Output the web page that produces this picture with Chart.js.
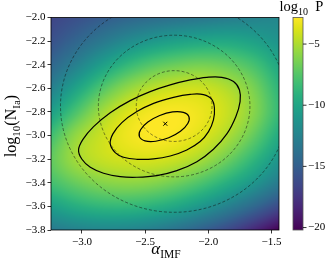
<!DOCTYPE html>
<html><head><meta charset="utf-8">
<script src="https://cdn.jsdelivr.net/npm/chart.js@4.4.0/dist/chart.umd.min.js"></script>
<style>html,body{margin:0;padding:0;background:#fff;overflow:hidden}</style>
</head><body>
<canvas id="c" width="332" height="269" style="width:332px;height:269px;display:block"></canvas>
<script>
// ---- axis ranges & ticks ----
const xMin = -3.245, xMax = -1.44;
const yMin = -3.8, yMax = -2.0;
const cbMin = -20.2, cbMax = -2.83;
const xTicks = [-3.0, -2.5, -2.0, -1.5];
const yTicks = [-2.0, -2.2, -2.4, -2.6, -2.8, -3.0, -3.2, -3.4, -3.6, -3.8];
const cbTicks = [-5, -10, -15, -20];

// ---- log10 P on a grid ----
const alphaGrid = [-3.25, -3.05, -2.85, -2.65, -2.45, -2.25, -2.05, -1.85, -1.65, -1.45];
const logNGrid  = [-2.0, -2.2, -2.4, -2.6, -2.8, -3.0, -3.2, -3.4, -3.6, -3.8];
const rowN200 = [-16.7, -16.0, -15.3, -14.7, -14.2, -13.8, -13.4, -13.0, -12.6, -12.2];
const rowN220 = [-15.9, -14.6, -13.3, -12.0, -11.0, -10.3, -9.9, -9.8, -10.3, -11.2];
const rowN240 = [-14.6, -12.7, -10.6, -8.8, -7.5, -6.8, -6.5, -6.9, -7.9, -9.8];
const rowN260 = [-12.8, -10.2, -7.7, -5.8, -4.7, -4.2, -4.2, -4.9, -6.3, -8.8];
const rowN280 = [-10.6, -7.8, -5.4, -3.9, -3.1, -2.95, -3.35, -4.3, -5.9, -8.5];
const rowN300 = [-8.3, -5.7, -4.3, -3.3, -2.88, -3.05, -3.75, -5.0, -6.9, -9.5];
const rowN320 = [-7.2, -5.3, -4.4, -4.0, -3.9, -4.3, -5.2, -6.7, -8.7, -11.0];
const rowN340 = [-8.1, -6.9, -6.1, -5.8, -6.0, -6.7, -7.8, -9.3, -11.0, -13.0];
const rowN360 = [-10.5, -9.4, -8.8, -8.7, -9.1, -9.9, -11.1, -12.6, -14.3, -16.2];
const rowN380 = [-13.2, -12.6, -12.3, -12.4, -12.9, -13.8, -15.0, -16.4, -18.2, -20.2];
const logPGrid = [rowN200, rowN220, rowN240, rowN260, rowN280, rowN300, rowN320, rowN340, rowN360, rowN380];

// ---- posterior contours (solid) ----
const c1Alpha = [-2.153, -2.162, -2.220, -2.313, -2.416, -2.501, -2.545, -2.536, -2.478, -2.384, -2.282, -2.197];
const c1LogN  = [-2.840, -2.898, -2.964, -3.019, -3.048, -3.045, -3.009, -2.951, -2.885, -2.830, -2.800, -2.804];
const c2Alpha = [-2.776, -2.737, -2.671, -2.565, -2.433, -2.301, -2.170, -2.064, -1.998, -1.959, -1.951, -1.972, -2.038, -2.143, -2.275, -2.433, -2.565, -2.684, -2.755];
const c2LogN  = [-3.071, -3.144, -3.184, -3.201, -3.198, -3.173, -3.122, -3.051, -2.967, -2.868, -2.769, -2.693, -2.653, -2.651, -2.676, -2.727, -2.797, -2.890, -2.986];
const c3Alpha = [-3.027, -3.000, -2.934, -2.829, -2.697, -2.565, -2.407, -2.249, -2.090, -1.959, -1.853, -1.782, -1.748, -1.753, -1.800, -1.893, -2.011, -2.143, -2.301, -2.460, -2.618, -2.776, -2.908, -2.992];
const c3LogN  = [-3.122, -3.201, -3.269, -3.319, -3.348, -3.353, -3.339, -3.297, -3.221, -3.116, -2.986, -2.840, -2.713, -2.614, -2.543, -2.507, -2.507, -2.529, -2.571, -2.628, -2.704, -2.806, -2.924, -3.032];

// ---- prior (dashed circles) ----
const priorAlpha = -2.27, priorLogN = -2.75;
const priorRadii = [0.3, 0.6, 0.9];

// ---- best-fit marker ----
const bestAlpha = [-2.34];
const bestLogN = [-2.90];

const FONT = "'Liberation Serif', 'DejaVu Serif', serif";
const viridisStops = ['#440154','#481568','#482677','#453781','#3F4788','#39558C','#32648E','#2D718E','#287D8E','#238A8D',
  '#1F968B','#20A386','#29AF7F','#3CBC75','#56C667','#75D054','#95D840','#BADE28','#DDE318','#FDE725'];
const vrgb = viridisStops.map(h => [parseInt(h.slice(1,3),16), parseInt(h.slice(3,5),16), parseInt(h.slice(5,7),16)]);
function viridis(t){
  t = Math.max(0, Math.min(1, t));
  const f = t * (vrgb.length - 1), i = Math.min(vrgb.length - 2, Math.floor(f)), u = f - i;
  const a = vrgb[i], b = vrgb[i+1];
  return [a[0]+(b[0]-a[0])*u, a[1]+(b[1]-a[1])*u, a[2]+(b[2]-a[2])*u];
}
function gridAt(r, c){
  const ny = logPGrid.length, nx = logPGrid[0].length;
  if (r < 0) return 2*gridAt(0, c) - gridAt(1, c);
  if (r >= ny) return 2*gridAt(ny-1, c) - gridAt(ny-2, c);
  if (c < 0) return 2*logPGrid[r][0] - logPGrid[r][1];
  if (c >= nx) return 2*logPGrid[r][nx-1] - logPGrid[r][nx-2];
  return logPGrid[r][c];
}
function cr(p0,p1,p2,p3,t){ return 0.5*((2*p1)+(-p0+p2)*t+(2*p0-5*p1+4*p2-p3)*t*t+(-p0+3*p1-3*p2+p3)*t*t*t); }
function sampleGrid(av, nv){
  const nx = alphaGrid.length, ny = logNGrid.length;
  const fx = (av - alphaGrid[0])/(alphaGrid[1]-alphaGrid[0]);
  const fy = (nv - logNGrid[0])/(logNGrid[1]-logNGrid[0]);
  let ix = Math.max(0, Math.min(nx-2, Math.floor(fx)));
  let iy = Math.max(0, Math.min(ny-2, Math.floor(fy)));
  const tx = fx - ix, ty = fy - iy;
  const rows = [];
  for (let k = -1; k <= 2; k++){ const r = iy + k; rows.push(cr(gridAt(r,ix-1), gridAt(r,ix), gridAt(r,ix+1), gridAt(r,ix+2), tx)); }
  return cr(rows[0], rows[1], rows[2], rows[3], ty);
}
const fmt = v => (v < 0 ? '\u2212' : '') + Math.abs(v).toFixed(1);
const pts = (xs, ys) => xs.map((x, i) => ({x, y: ys[i]}));
// closed loop: wrap one point on each side so the spline has proper neighbours at the seam
const wrapped = (xs, ys) => { const p = pts(xs, ys); const n = p.length; return [{...p[n-1]}, ...p, {...p[0]}, {...p[1]}]; };

function drawParts(ctx, parts, x, y){
  let cx = x;
  parts.forEach(p => {
    ctx.font = (p[3] ? 'italic ' : '') + p[1] + 'px ' + FONT;
    ctx.fillText(p[0], cx, y + p[2]);
    cx += ctx.measureText(p[0]).width;
  });
  return cx - x;
}
function partsWidth(ctx, parts){
  let w = 0;
  parts.forEach(p => { ctx.font = (p[3] ? 'italic ' : '') + p[1] + 'px ' + FONT; w += ctx.measureText(p[0]).width; });
  return w;
}

const heatPlugin = {
  id: 'heat',
  beforeDatasetsDraw(chart){
    const {ctx, chartArea: a, scales: {x, y, cb}} = chart;
    const L = Math.floor(a.left), T = Math.floor(a.top), R = Math.ceil(a.right), B = Math.ceil(a.bottom);
    const w = R - L, h = B - T;
    const off = document.createElement('canvas'); off.width = w; off.height = h;
    const octx = off.getContext('2d');
    const img = octx.createImageData(w, h);
    for (let j = 0; j < h; j++){
      const nv = y.getValueForPixel(T + j + 0.5);
      for (let i = 0; i < w; i++){
        const av = x.getValueForPixel(L + i + 0.5);
        const v = sampleGrid(av, nv);
        const c = viridis((v - cb.min)/(cb.max - cb.min));
        const k = 4*(j*w + i);
        img.data[k] = c[0]; img.data[k+1] = c[1]; img.data[k+2] = c[2]; img.data[k+3] = 255;
      }
    }
    octx.putImageData(img, 0, 0);
    ctx.save();
    ctx.beginPath(); ctx.rect(a.left, a.top, a.right - a.left, a.bottom - a.top); ctx.clip();
    ctx.drawImage(off, L, T);
    ctx.setLineDash([3, 2]);
    ctx.lineWidth = 0.8;
    ctx.strokeStyle = 'rgba(20,20,20,0.65)';
    const cx = x.getPixelForValue(priorAlpha), cy = y.getPixelForValue(priorLogN);
    priorRadii.forEach(r => {
      const rx = Math.abs(x.getPixelForValue(priorAlpha + r) - cx);
      const ry = Math.abs(y.getPixelForValue(priorLogN + r) - cy);
      ctx.beginPath(); ctx.ellipse(cx, cy, rx, ry, 0, 0, 2*Math.PI); ctx.stroke();
    });
    ctx.restore();
  },
  afterDraw(chart){
    const {ctx, chartArea: a, scales: {cb}} = chart;
    ctx.save();
    ctx.strokeStyle = '#000'; ctx.lineWidth = 0.8;
    ctx.strokeRect(a.left, a.top, a.right - a.left, a.bottom - a.top);
    // colorbar
    const x0 = 293, x1 = 303;
    const yTop = cb.getPixelForValue(cbMax), yBot = cb.getPixelForValue(cbMin);
    const g = ctx.createLinearGradient(0, yBot, 0, yTop);
    viridisStops.forEach((s, i) => g.addColorStop(i/(viridisStops.length-1), s));
    ctx.fillStyle = g;
    ctx.fillRect(x0, yTop, x1 - x0, yBot - yTop);
    ctx.strokeStyle = '#555'; ctx.lineWidth = 0.8;
    ctx.strokeRect(x0, yTop, x1 - x0, yBot - yTop);
    ctx.fillStyle = '#000'; ctx.strokeStyle = '#000';
    ctx.font = '11px ' + FONT; ctx.textAlign = 'left'; ctx.textBaseline = 'middle';
    cbTicks.forEach(v => {
      const py = cb.getPixelForValue(v);
      ctx.beginPath(); ctx.moveTo(x1, py); ctx.lineTo(x1 + 3.5, py); ctx.stroke();
      ctx.fillText('\u2212' + Math.abs(v), x1 + 5, py);
    });
    ctx.textBaseline = 'alphabetic';
    const tParts = [['log', 14.5, 0], ['10', 10, 3.5], ['\u2002P', 14.5, 0]];
    drawParts(ctx, tParts, 279.5, 11);
    const xParts = [['\u03b1', 17, 0, true], ['IMF', 11.5, 3.5]];
    const xw = partsWidth(ctx, xParts);
    drawParts(ctx, xParts, 166 - xw/2, 254);
    ctx.translate(16, 126);
    ctx.rotate(-Math.PI/2);
    const yParts = [['log', 16, 0], ['10', 11, 3.5], ['(N', 16, 0], ['Ia', 11, 3.5], [')', 16, 0]];
    const yw = partsWidth(ctx, yParts);
    drawParts(ctx, yParts, -yw/2, 0);
    ctx.restore();
  }
};

const lineDs = (xs, ys) => {
  const n = xs.length;
  return {data: wrapped(xs, ys), showLine: true, borderColor: '#000', borderWidth: 1.2,
    pointRadius: 0, tension: 0.4, fill: false,
    segment: {borderColor: c => (c.p0DataIndex === 0 || c.p0DataIndex === n + 1) ? 'rgba(0,0,0,0)' : undefined}};
};

new Chart(document.getElementById('c'), {
  type: 'scatter',
  data: { datasets: [
    lineDs(c1Alpha, c1LogN),
    lineDs(c2Alpha, c2LogN),
    lineDs(c3Alpha, c3LogN),
    {data: pts(bestAlpha, bestLogN), pointStyle: 'crossRot', pointRadius: 2.8, borderColor: '#000', borderWidth: 1, showLine: false}
  ]},
  options: {
    responsive: false, animation: false, devicePixelRatio: 1,
    layout: {padding: {left: 0, right: 53, top: 17.5, bottom: 0}},
    plugins: {legend: {display: false}, tooltip: {enabled: false}},
    scales: {
      x: {type: 'linear', min: xMin, max: xMax,
        afterBuildTicks: s => { s.ticks = xTicks.map(v => ({value: v})); },
        afterFit: s => { s.height = 39; },
        grid: {drawOnChartArea: false, drawTicks: true, tickLength: 3.5, color: '#000', lineWidth: 0.8},
        border: {display: false},
        ticks: {font: {family: FONT, size: 11}, color: '#000', padding: 2, maxRotation: 0, autoSkip: false, callback: fmt}},
      y: {type: 'linear', min: yMin, max: yMax,
        afterBuildTicks: s => { s.ticks = yTicks.map(v => ({value: v})); },
        afterFit: s => { s.width = 51; },
        grid: {drawOnChartArea: false, drawTicks: true, tickLength: 3.5, color: '#000', lineWidth: 0.8},
        border: {display: false},
        ticks: {font: {family: FONT, size: 11}, color: '#000', padding: 2, autoSkip: false, callback: fmt}},
      cb: {type: 'linear', display: false, position: 'right', min: cbMin, max: cbMax}
    }
  },
  plugins: [heatPlugin]
});
</script>
</body></html>
